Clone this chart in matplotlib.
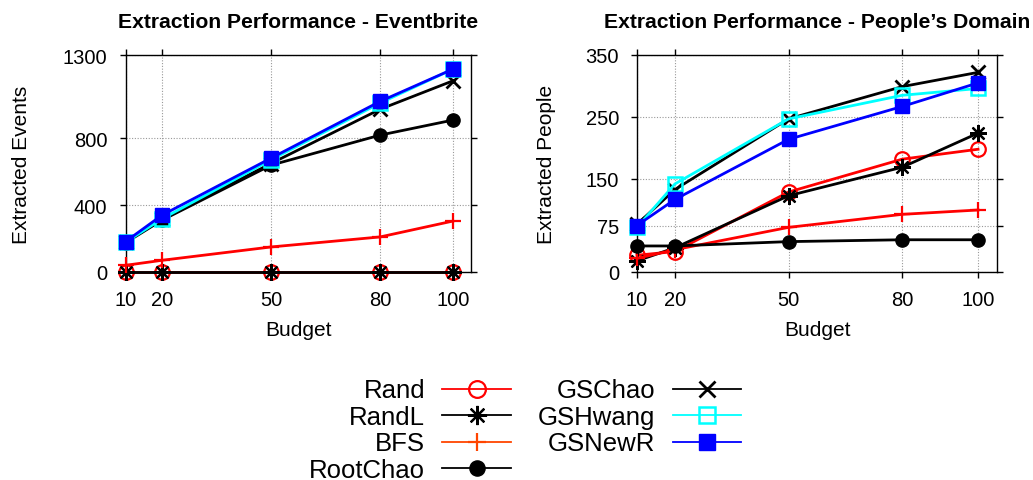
import matplotlib
matplotlib.use("Agg")
import matplotlib.pyplot as plt
from matplotlib.lines import Line2D

plt.rcParams["font.family"] = ["Liberation Sans", "DejaVu Sans"]

budget = [10, 20, 50, 80, 100]

# Eventbrite
ev_rand = [0, 0, 0, 0, 0]
ev_randl = [0, 0, 0, 0, 0]
ev_bfs = [40, 70, 150, 210, 305]
ev_rootchao = [175, 310, 640, 820, 910]
ev_gschao = [180, 315, 650, 975, 1145]
ev_gshwang = [178, 318, 672, 1012, 1215]
ev_gsnewr = [182, 340, 682, 1022, 1215]

# People's Domain
pd_rand = [27, 33, 129, 182, 198]
pd_randl = [18, 39, 123, 169, 224]
pd_bfs = [22, 36, 72, 93, 100]
pd_rootchao = [42, 42, 49, 52, 52]
pd_gschao = [77, 133, 247, 299, 322]
pd_gshwang = [72, 142, 247, 285, 296]
pd_gsnewr = [75, 117, 214, 267, 305]

ev_yticks = [0, 400, 800, 1300]
pd_yticks = [0, 75, 150, 250, 350]

names = ["Rand", "RandL", "BFS", "RootChao", "GSChao", "GSHwang", "GSNewR"]

STAR = (8, 2, 0)
styles = {
    "Rand": dict(color="#ff0000", marker="o", mfc="none", mec="#ff0000", ms=10.5, mew=1.6),
    "RandL": dict(color="black", marker=STAR, mec="black", ms=12, mew=1.6),
    "BFS": dict(color="#ff0000", marker="+", mec="#ff0000", ms=11, mew=1.6),
    "RootChao": dict(color="black", marker="o", mfc="black", mec="black", ms=9.5, mew=1),
    "GSChao": dict(color="black", marker="x", mec="black", ms=10, mew=2),
    "GSHwang": dict(color="#00ffff", marker="s", mfc="none", mec="#00ffff", ms=10, mew=1.8),
    "GSNewR": dict(color="#0000ff", marker="s", mfc="#0000ff", mec="#0000ff", ms=10, mew=1),
}

fig = plt.figure(figsize=(10.33, 4.81), dpi=100)
W, H = 1033, 481


def px_axes(x0, x1, y0, y1):
    return fig.add_axes([x0 / W, 1 - y1 / H, (x1 - x0) / W, (y1 - y0) / H])


def draw_panel(ax, series, yticks, title, ylabel, ylabel_x):
    for i, (name, vals) in enumerate(zip(names, series)):
        ax.plot(budget, vals, lw=2.0, clip_on=False, zorder=3 + i, **styles[name])
    ax.set_xlim(10, 105)
    ax.set_ylim(yticks[0], yticks[-1])
    ax.set_xticks(budget)
    ax.set_yticks(yticks)
    ax.tick_params(direction="out", length=4, width=1, labelsize=14.5, pad=9,
                   top=True, right=True)
    ax.grid(True, color="#999999", linestyle=(0, (1, 1.5)), linewidth=0.8)
    ax.set_axisbelow(True)
    for sp in ax.spines.values():
        sp.set_linewidth(1.0)
        sp.set_zorder(2.5)
    ax.set_title(title, fontsize=15.2, fontweight="bold", pad=20)
    ax.set_xlabel("Budget", fontsize=15)
    ax.xaxis.set_label_coords(0.5, -0.263)
    ax.xaxis.label.set_va("center")
    ax.set_ylabel(ylabel, fontsize=15)
    ax.yaxis.set_label_coords(ylabel_x, 0.5)
    ax.yaxis.label.set_va("center")


ax1 = px_axes(125.5, 471, 56, 273)
draw_panel(ax1, [ev_rand, ev_randl, ev_bfs, ev_rootchao, ev_gschao, ev_gshwang, ev_gsnewr],
           ev_yticks, "Extraction Performance - Eventbrite", "Extracted Events", -0.30)

ax2 = px_axes(637, 997, 56, 273)
draw_panel(ax2, [pd_rand, pd_randl, pd_bfs, pd_rootchao, pd_gschao, pd_gshwang, pd_gsnewr],
           pd_yticks, "Extraction Performance - People\u2019s Domain", "Extracted People", -0.25)

# Legend in two columns: right-aligned label, then a line sample with its marker
leg = fig.add_axes([0, 0, 1, 1])
leg.set_xlim(0, W)
leg.set_ylim(H, 0)
leg.axis("off")

legend_style = dict(styles)
legend_style["BFS"] = dict(styles["BFS"], color="#ff4500", mec="#ff4500")
columns = [(names[:4], 425, 442, 511), (names[4:], 655, 673, 741)]
row_y = [389.5, 416, 442.5, 469]
for col_names, text_x, lx0, lx1 in columns:
    for name, y in zip(col_names, row_y):
        leg.text(text_x, y + 9, name, ha="right", va="baseline", fontsize=18.5)
        st = dict(legend_style[name])
        leg.add_line(Line2D([lx0, lx1], [y, y], lw=1.3, color=st.pop("color")))
        st["ms"] = st["ms"] * 1.15
        leg.add_line(Line2D([(lx0 + lx1) / 2], [y], linestyle="none", **st))

fig.savefig("out.png", dpi=100)
